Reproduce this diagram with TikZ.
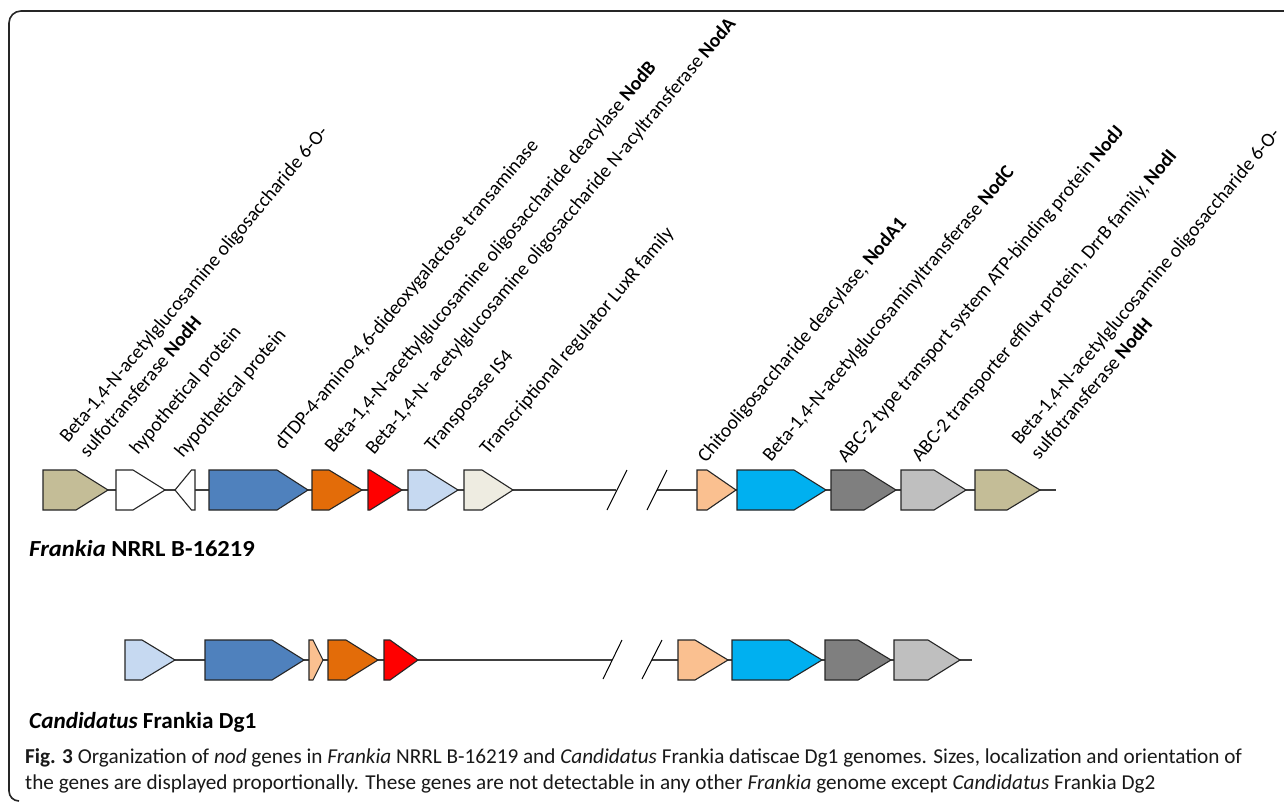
\documentclass[tikz,border=0pt]{standalone}
\usepackage{fontspec}
\setmainfont{Carlito}
\definecolor{ctan}{HTML}{C4BD97}
\definecolor{cblue}{HTML}{4F81BD}
\definecolor{corange}{HTML}{E36C09}
\definecolor{cred}{HTML}{FF0000}
\definecolor{cltblue}{HTML}{C6D9F1}
\definecolor{cbeige}{HTML}{EEECE1}
\definecolor{cpeach}{HTML}{FAC090}
\definecolor{ccyan}{HTML}{00B0F0}
\definecolor{cdgray}{HTML}{7F7F7F}
\definecolor{clgray}{HTML}{BFBFBF}
\newcommand{\genef}[5]{% left, shoulder, tip, ycenter, color
  \draw[genebox, fill=#5] (#1,#4-20) -- (#2,#4-20) -- (#3,#4) -- (#2,#4+20) -- (#1,#4+20) -- cycle;}
\begin{document}
\begin{tikzpicture}[x=1pt,y=-1pt,
  genebox/.style={draw=black!85, line width=1.1pt, line join=miter},
  backbone/.style={draw=black!75, line width=1.1pt},
  breakmark/.style={draw=black, line width=1pt},
  glabel/.style={rotate=50, anchor=base west, inner sep=0pt, font=\fontsize{19.6}{23}\selectfont},
  strain/.style={anchor=base west, inner sep=0pt, font=\fontsize{23}{27}\selectfont\bfseries},
  captxt/.style={anchor=base west, inner sep=0pt, font=\fontsize{21.2}{26}\selectfont, text=black!90},
  frame/.style={draw=black!85, line width=1.6pt}]
\useasboundingbox (0,0) rectangle (1284,803);
\fill[white] (0,0) rectangle (1284,803);
% frame
\draw[frame] (1284,11) -- (21,11) arc[start angle=270, end angle=180, radius=12] -- (9,791) arc[start angle=180, end angle=90, radius=10];
% ---------- row 1 ----------
\coordinate (r1a) at (108,490);
\coordinate (r1b) at (616,490);
\coordinate (r1c) at (657,490);
\coordinate (r1d) at (1056,490);
\draw[backbone] (r1a) -- (r1b);
\draw[backbone] (r1c) -- (r1d);
\coordinate (s1a) at (607,510); \coordinate (s1b) at (627,470);
\coordinate (s1c) at (647,510); \coordinate (s1d) at (667,470);
\draw[breakmark] (s1a) -- (s1b);
\draw[breakmark] (s1c) -- (s1d);
\genef{43}{76}{108}{490}{ctan}
\genef{116}{133}{165}{490}{white}
\draw[genebox, fill=white] (195,470) -- (191.5,470) -- (175,490) -- (191.5,510) -- (195,510) -- cycle;
\genef{209}{277}{308}{490}{cblue}
\genef{312}{329}{362}{490}{corange}
\genef{368}{370}{402}{490}{cred}
\genef{408}{426}{458}{490}{cltblue}
\genef{464}{482}{513}{490}{cbeige}
\genef{697}{707}{736}{490}{cpeach}
\genef{737}{794}{826}{490}{ccyan}
\genef{831}{864}{896}{490}{cdgray}
\genef{901}{934}{966}{490}{clgray}
\genef{975}{1007}{1040}{490}{ctan}
% ---------- row 2 ----------
\coordinate (r2a) at (175,660);
\coordinate (r2b) at (612,660);
\coordinate (r2c) at (652,660);
\coordinate (r2d) at (972,660);
\draw[backbone] (r2a) -- (r2b);
\draw[backbone] (r2c) -- (r2d);
\coordinate (s2a) at (603,679); \coordinate (s2b) at (622,640);
\coordinate (s2c) at (642,679); \coordinate (s2d) at (662,640);
\draw[breakmark] (s2a) -- (s2b);
\draw[breakmark] (s2c) -- (s2d);
\genef{125}{142}{175}{660}{cltblue}
\genef{205}{272}{304}{660}{cblue}
\genef{309}{313}{323}{660}{cpeach}
\genef{328}{346}{378}{660}{corange}
\genef{384}{390}{418}{660}{cred}
\genef{678}{695}{728}{660}{cpeach}
\genef{732}{789}{822}{660}{ccyan}
\genef{825}{858}{891}{660}{cdgray}
\genef{894}{928}{960}{660}{clgray}
% ---------- labels ----------
\node[glabel] (l1a) at (68,444) {Beta-1,4-N-acetylglucosamine oligosaccharide 6-O-};
\node[glabel] (l1b) at (88,459) {sulfotransferase \textbf{NodH}};
\node[glabel] (l2) at (138,456) {hypothetical protein};
\node[glabel] (l3) at (183,459) {hypothetical protein};
\node[glabel] (l4) at (283,451) {dTDP-4-amino-4,6-dideoxygalactose transaminase};
\node[glabel] (l5) at (333,454) {Beta-1,4-N-acettylglucosamine oligosaccharide deacylase \textbf{NodB}};
\node[glabel] (l6) at (374,456) {Beta-1,4-N- acetylglucosamine oligosaccharide N-acyltransferase \textbf{NodA}};
\node[glabel] (l7) at (433,453) {Transposase IS4};
\node[glabel] (l8) at (488,456) {Transcriptional regulator LuxR family};
\node[glabel] (r1) at (706,464) {Chitooligosaccharide deacylase, \textbf{NodA1}};
\node[glabel] (r2) at (771,463) {Beta-1,4-N-acetylglucosaminyltransferase \textbf{NodC}};
\node[glabel] (r3) at (846,464) {ABC-2 type transport system ATP-binding protein \textbf{NodJ}};
\node[glabel] (r4) at (920,463) {ABC-2 transporter efflux protein, DrrB family, \textbf{NodI}};
\node[glabel] (r5a) at (1020,446) {Beta-1,4-N-acetylglucosamine oligosaccharide 6-O-};
\node[glabel] (r5b) at (1039,461) {sulfotransferase \textbf{NodH}};
% strain labels
\node[strain] (st1) at (29,556) {\scalebox{1.07}[1]{\itshape Frankia\upshape{} NRRL B-16219}};
\node[strain] (st2) at (29,728) {\scalebox{1.01}[1]{\itshape Candidatus\upshape{} Frankia Dg1}};
% caption
\node[captxt] (cap1) at (25,763)
  {\textbf{Fig. 3} Organization of \textit{nod} genes in \textit{Frankia} NRRL B-16219 and \textit{Candidatus} Frankia datiscae Dg1 genomes. Sizes, localization and orientation of};
\node[captxt] (cap2) at (25,789)
  {the genes are displayed proportionally. These genes are not detectable in any other \textit{Frankia} genome except \textit{Candidatus} Frankia Dg2};
\end{tikzpicture}
\end{document}
